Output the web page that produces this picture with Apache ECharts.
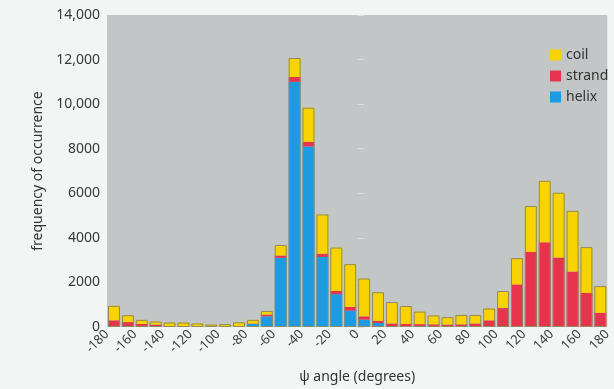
<!DOCTYPE html>
<html>
<head>
<meta charset="utf-8">
<script src="https://cdn.jsdelivr.net/npm/echarts@6/dist/echarts.min.js"></script>
<style>
html,body{margin:0;padding:0;background:#f3f4f4;}
#c{width:614px;height:389px;}
</style>
</head>
<body>
<div id="c"></div>
<script>
// 10-degree bins, labelled by their starting angle (-180 ... 170)
var binStarts = [-180,-170,-160,-150,-140,-130,-120,-110,-100,-90,-80,-70,-60,-50,-40,-30,-20,-10,
                 0,10,20,30,40,50,60,70,80,90,100,110,120,130,140,150,160,170];
var helix  = [0,0,0,0,0,0,0,0,0,20,140,480,3105,11000,8100,3140,1475,730,
              330,180,0,0,0,0,0,0,0,0,0,0,0,0,0,0,0,0];
var strand = [300,220,140,110,30,30,20,15,20,10,20,80,105,220,205,150,145,175,
              150,100,160,140,130,120,110,120,160,300,850,1910,3370,3800,3120,2490,1525,640];
var coil   = [650,310,180,135,170,170,135,95,110,180,160,155,470,850,1535,1760,1945,1915,
              1695,1280,960,800,560,400,330,420,380,530,765,1180,2060,2760,2905,2720,2060,1195];
var xTicks = [-180,-160,-140,-120,-100,-80,-60,-40,-20,0,20,40,60,80,100,120,140,160,180];
var yTicks = [0,2000,4000,6000,8000,10000,12000,14000];

var totals = binStarts.map(function(_, i){ return helix[i] + strand[i] + coil[i]; });

var chart = echarts.init(document.getElementById('c'));
var font = 'Noto Sans';
chart.setOption({
  backgroundColor: '#f3f4f4',
  animation: false,
  grid: {left: 107, right: 2, top: 15, bottom: 57, show: true, backgroundColor: '#c3c6c6', borderWidth: 0},
  legend: {
    data: ['coil','strand','helix'],
    orient: 'vertical', left: 545, top: 43,
    icon: 'rect', itemWidth: 11, itemHeight: 11, itemGap: 7,
    textStyle: {fontFamily: font, fontSize: 14, color: '#333'}
  },
  xAxis: [
    {type: 'category', data: binStarts, boundaryGap: true,
     axisLine: {show: false}, axisTick: {show: false}, axisLabel: {show: false}, splitLine: {show: false}},
    {type: 'value', position: 'bottom', min: xTicks[0], max: xTicks[xTicks.length-1], interval: 20,
     name: 'ψ angle (degrees)', nameLocation: 'middle', nameGap: 43,
     nameTextStyle: {fontFamily: font, fontSize: 14, color: '#333'},
     axisLine: {show: false}, axisTick: {show: false}, splitLine: {show: false},
     axisLabel: {rotate: 45, margin: 5, fontFamily: font, fontSize: 13, color: '#3f3f3f',
                 showMinLabel: true, showMaxLabel: true}}
  ],
  yAxis: {
    type: 'value', min: yTicks[0], max: yTicks[yTicks.length-1], interval: 2000,
    name: 'frequency of occurrence', nameLocation: 'middle', nameGap: 46,
    nameTextStyle: {fontFamily: font, fontSize: 14, color: '#333'},
    axisLine: {show: false}, splitLine: {show: false},
    axisTick: {show: true, inside: true, length: 7, lineStyle: {color: '#dcdede', width: 1}},
    axisLabel: {margin: 7, fontFamily: font, fontSize: 14, color: '#3a3a3a',
      formatter: function(v){ return v >= 10000 ? v.toLocaleString('en-US') : String(v); }}
  },
  series: [
    {name: 'helix', type: 'bar', stack: 'a', barWidth: '86%', data: helix,
     itemStyle: {color: '#1b9be2'}},
    {name: 'strand', type: 'bar', stack: 'a', data: strand,
     itemStyle: {color: '#e8334c'}},
    {name: 'coil', type: 'bar', stack: 'a', data: coil,
     itemStyle: {color: '#f9d300'}},
    {name: 'outline', type: 'bar', barGap: '-100%', barWidth: '86%', data: totals, z: 5, silent: true,
     itemStyle: {color: 'rgba(0,0,0,0)', borderColor: '#8e8a62', borderWidth: 1}}
  ]
});
</script>
</body>
</html>
